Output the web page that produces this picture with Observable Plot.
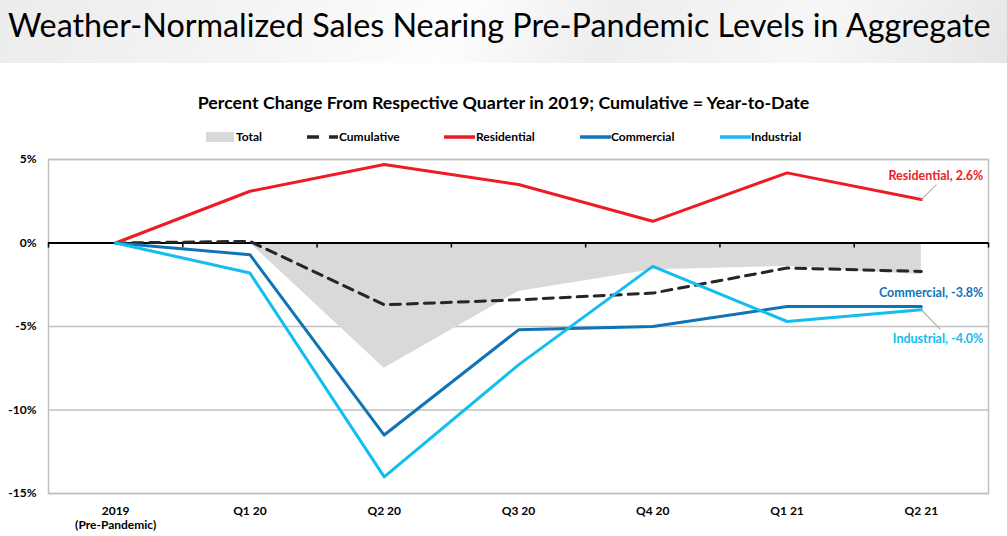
<!DOCTYPE html>
<html>
<head>
<meta charset="utf-8">
<script src="https://cdn.jsdelivr.net/npm/d3@7"></script>
<script src="https://cdn.jsdelivr.net/npm/@observablehq/plot@0.6"></script>
<style>
  html, body { margin: 0; padding: 0; background: #fff; }
  #page { position: relative; width: 1007px; height: 536px; overflow: hidden; font-family: Lato, "Open Sans", sans-serif; }
  #title { position: absolute; left: 0; top: 0; width: 1007px; height: 63px;
    background: linear-gradient(115deg, #ececec 0%, #f6f6f6 30%, #fdfdfd 45%, #eeeeee 60%, #f7f7f7 80%, #e6e6e6 100%);
    white-space: nowrap; }
  #title span { position: absolute; left: 8px; top: 5px; font-size: 32.3px; color: #000; line-height: 40px; }
  #subtitle { position: absolute; left: 0; width: 1007px; top: 91px; text-align: center; font-size: 17.8px; font-weight: bold; color: #000; line-height: 22px; }
  #legend { position: absolute; left: 0; top: 129px; width: 1007px; height: 16px; font-size: 12px; font-weight: bold; color: #000; }
  #legend .lab { position: absolute; top: 0; line-height: 16px; }
  #legend svg { position: absolute; top: 0; }
  #chart { position: absolute; left: 0; top: 145px; }
</style>
</head>
<body>
<div id="page">
  <div id="title"><span id="titleText"></span></div>
  <div id="subtitle"></div>
  <div id="legend"></div>
  <div id="chart"></div>
</div>
<script>
// ---- data ----
const titleText = "Weather-Normalized Sales Nearing Pre-Pandemic Levels in Aggregate";
const subtitleText = "Percent Change From Respective Quarter in 2019; Cumulative = Year-to-Date";
const quarters = ["2019\n(Pre-Pandemic)", "Q1 20", "Q2 20", "Q3 20", "Q4 20", "Q1 21", "Q2 21"];
const total = [null, 0, -7.5, -2.9, -1.6, -1.4, -1.9];
const cumulative = [0, 0.1, -3.7, -3.4, -3.0, -1.5, -1.7];
const residential = [0, 3.1, 4.7, 3.5, 1.3, 4.2, 2.6];
const commercial = [0, -0.7, -11.5, -5.2, -5.0, -3.8, -3.8];
const industrial = [0, -1.8, -14.0, -7.3, -1.4, -4.7, -4.0];
const yTicks = [5, 0, -5, -10, -15];
const legendNames = ["Total", "Cumulative", "Residential", "Commercial", "Industrial"];
const colors = {
  Total: "#d9d9d9", Cumulative: "#262626", Residential: "#ed1c24",
  Commercial: "#0f74b6", Industrial: "#12bdf0"
};

document.getElementById("titleText").textContent = titleText;
document.getElementById("subtitle").textContent = subtitleText;

// ---- legend ----
const legendLayout = [
  {name: "Total", sx: 206, sw: 28, lx: 236},
  {name: "Cumulative", sx: 307, sw: 31, lx: 339},
  {name: "Residential", sx: 444, sw: 31, lx: 476},
  {name: "Commercial", sx: 580, sw: 31, lx: 611},
  {name: "Industrial", sx: 720, sw: 31, lx: 751}
];
const legend = document.getElementById("legend");
legendLayout.forEach(d => {
  const ns = "http://www.w3.org/2000/svg";
  const svg = document.createElementNS(ns, "svg");
  svg.setAttribute("width", d.sw); svg.setAttribute("height", 16);
  svg.style.left = d.sx + "px";
  if (d.name === "Total") {
    const r = document.createElementNS(ns, "rect");
    r.setAttribute("x", 0); r.setAttribute("y", 3); r.setAttribute("width", d.sw); r.setAttribute("height", 10);
    r.setAttribute("fill", colors.Total); svg.appendChild(r);
  } else {
    const l = document.createElementNS(ns, "line");
    l.setAttribute("x1", 0); l.setAttribute("x2", d.sw); l.setAttribute("y1", 8); l.setAttribute("y2", 8);
    l.setAttribute("stroke", colors[d.name]); l.setAttribute("stroke-width", 3.5);
    if (d.name === "Cumulative") l.setAttribute("stroke-dasharray", "12,10");
    svg.appendChild(l);
  }
  legend.appendChild(svg);
  const s = document.createElement("span");
  s.className = "lab"; s.style.left = d.lx + "px"; s.textContent = d.name;
  legend.appendChild(s);
});

// ---- chart ----
const idx = quarters.map((_, i) => i);
const totalRows = idx.filter(i => total[i] != null).map(i => ({i, v: total[i]}));
const cumRows = idx.map(i => ({i, v: cumulative[i]}));
const series = [
  {name: "Residential", values: residential},
  {name: "Commercial", values: commercial},
  {name: "Industrial", values: industrial}
];
const lineRows = series.flatMap(s => idx.map(i => ({name: s.name, i, v: s.values[i]})));
const boundaries = [...idx.map(i => i - 0.5), quarters.length - 0.5];
const last = quarters.length - 1;
const endLabels = series.map(s => ({name: s.name, i: last, v: s.values[last],
  label: `${s.name}, ${s.values[last].toFixed(1)}%`}));
const endLabel = name => endLabels.filter(d => d.name === name);

const noHead = {draw(context, l) { context.moveTo(0, 0); context.lineTo(0, -l); }};
const labelOpts = (name, dy) => ({x: "i", y: "v", text: "label", fill: colors[name], textAnchor: "end",
  fontSize: 12.5, fontWeight: "bold", dx: 62, dy});

const chart = Plot.plot({
  width: 1007, height: 391,
  marginTop: 14, marginBottom: 43, marginLeft: 48, marginRight: 19,
  style: {fontFamily: "Lato, 'Open Sans', sans-serif", fontSize: "12px", fontWeight: "bold", color: "#000", background: "transparent"},
  x: {type: "linear", domain: [-0.5, quarters.length - 0.5], axis: null},
  y: {domain: [-15, 5], axis: null},
  marks: [
    Plot.gridY(yTicks.filter(d => d !== 0), {stroke: "#c0c0c0", strokeOpacity: 1, strokeWidth: 1.5}),
    Plot.areaY(totalRows, {x: "i", y: "v", fill: colors.Total}),
    Plot.frame({stroke: "#c0c0c0", strokeWidth: 1.5}),
    Plot.axisY(yTicks, {tickSize: 0, tickPadding: 12, tickFormat: d => d + "%", fill: "#000", label: null}),
    Plot.axisX(idx, {tickSize: 0, tickPadding: 12, tickFormat: i => quarters[i], fill: "#000", lineHeight: 1.15, label: null}),
    Plot.ruleY([0], {stroke: "#000", strokeWidth: 2}),
    Plot.ruleX(boundaries, {y1: 0, y2: -0.3, stroke: "#000", strokeWidth: 1.5}),
    Plot.lineY(cumRows, {x: "i", y: "v", stroke: colors.Cumulative, strokeWidth: 3, strokeDasharray: "10,7"}),
    Plot.lineY(lineRows, {x: "i", y: "v", z: "name", stroke: d => colors[d.name], strokeWidth: 3}),
    Plot.vector(endLabel("Residential"), {x: "i", y: "v", length: 21, rotate: 45, anchor: "start", shape: noHead, stroke: "#a6a6a6", strokeWidth: 1}),
    Plot.vector(endLabel("Industrial"), {x: "i", y: "v", length: 27, rotate: 136, anchor: "start", shape: noHead, stroke: "#a6a6a6", strokeWidth: 1}),
    Plot.text(endLabel("Residential"), labelOpts("Residential", -24)),
    Plot.text(endLabel("Commercial"), labelOpts("Commercial", -13)),
    Plot.text(endLabel("Industrial"), labelOpts("Industrial", 29))
  ]
});
document.getElementById("chart").appendChild(chart);
</script>
</body>
</html>
